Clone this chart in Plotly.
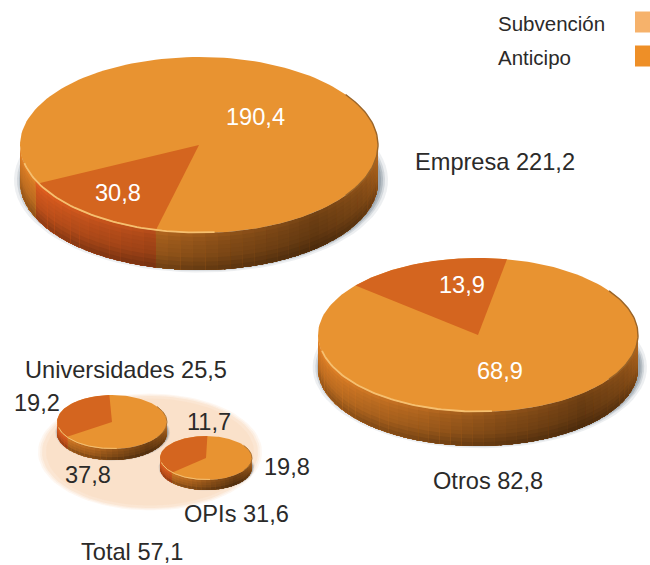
import numpy as np
import plotly.graph_objects as go

# ---- data ----
categories = ["Empresa", "Otros", "Universidades", "OPIs"]
totals = [221.2, 82.8, 25.5, 31.6]
subvencion = [190.4, 68.9, 37.8, 19.8]
anticipo = [30.8, 13.9, 19.2, 11.7]
group_label = "Total"
group_total = 57.1
legend_names = ["Subvención", "Anticipo"]

# ---- drawing style ----
W, H = 650, 565
fmt = lambda v: f"{v:.1f}".replace(".", ",")
# cx, cy, rx, ry, depth, start angle of the Anticipo slice (clockwise from north)
geom = [(199, 145, 179, 88, 37, 194),
        (478, 335, 160, 77, 34, 310),
        (112, 422, 55, 27, 11, 236),
        (206, 458, 46, 22, 10, 228)]
steps = [(4, 9), (4, 9), (6, 4), (6, 4)]
C_TOP, C_WEDGE = (232, 147, 49), (212, 101, 31)
C_SIDE, C_SIDE_W = (205, 118, 36), (208, 88, 30)

fig = go.Figure()


def poly(xs, ys, color, opacity=1.0):
    fig.add_trace(go.Scatter(x=xs, y=ys, mode="lines", fill="toself", fillcolor=color,
                             opacity=opacity, line=dict(width=0),
                             hoverinfo="skip", showlegend=False))


def ell(cx, cy, rx, ry, a, b, n=90):
    t = np.radians(np.linspace(a, b, n))
    return cx + rx * np.sin(t), cy - ry * np.cos(t)


def rgb(c, k=1.0):
    return "rgb(%d,%d,%d)" % tuple(min(255, max(0, int(v * k))) for v in c)


# pale "Total" halo behind the two small pies
for grow, op in [(4, 0.25), (2, 0.35), (0, 0.6), (-4, 0.8)]:
    x, y = ell(150, 452, 108 + grow, 56 + grow * 0.6, 0, 360)
    poly(x, y, "#fae0c8", op)

for (cx, cy, rx, ry, d, start), (da, nl), s, a in zip(geom, steps, subvencion, anticipo):
    sweep = 360 * a / (a + s)
    end = start + sweep
    # soft shadow under the disc
    sc = rx / 179
    for g, op in [(8, 0.12), (5, 0.2), (3, 0.3), (1, 0.35)]:
        x, y = ell(cx + 2 * sc, cy + d * 0.95, rx + g * sc, ry + g * 0.55 * sc, 0, 360)
        poly(x, y, "#6f7f8c", op)

    # outer wall, shaded by angle and height; painter's order hides the seams
    for t0 in np.arange(90, 270, da):
        t1 = min(t0 + da * 1.5, 270)
        mid = t0 + da / 2
        in_w = any(start <= m <= end for m in (mid, mid + 360))
        base = C_SIDE_W if in_w else C_SIDE
        k = np.interp(mid, [90, 115, 140, 170, 200, 240, 270], [0.85, 0.62, 0.5, 0.62, 0.8, 0.95, 1.0])
        xa, ya = ell(cx, cy, rx, ry, t0, t1, 4)
        for i in range(nl):
            f0 = i / nl
            kv = np.interp((i + 0.5) / nl, [0, 0.2, 0.6, 1], [1.15, 1.05, 0.95, 0.72])
            poly(np.r_[xa, xa[::-1], xa[0]],
                 np.r_[ya + d * f0, (ya + d)[::-1], ya[0] + d * f0],
                 rgb(base, k * kv))

    # top face
    x, y = ell(cx, cy, rx, ry, 0, 360, 180)
    poly(x, y, rgb(C_TOP))
    x, y = ell(cx, cy, rx, ry, start, end, 60)
    poly(np.r_[cx, x, cx], np.r_[cy, y, cy], rgb(C_WEDGE))

    # rim: bright on the front left, dark on the right
    x, y = ell(cx, cy, rx - 0.5, ry - 0.5, 175, 258, 60)
    fig.add_trace(go.Scatter(x=x, y=y, mode="lines", line=dict(color="#f6c070", width=1.8 if rx > 100 else 1),
                             hoverinfo="skip", showlegend=False))
    x, y = ell(cx, cy, rx, ry, 55, 125, 50)
    fig.add_trace(go.Scatter(x=x, y=y, mode="lines", line=dict(color="#9a6428", width=1.4 if rx > 100 else 0.8),
                             hoverinfo="skip", showlegend=False))

# ---- text ----
ink = "#2b2a29"
SZ = 23.6
notes = [
    (495, 162, f"{categories[0]} {fmt(totals[0])}", ink),
    (488, 481, f"{categories[1]} {fmt(totals[1])}", ink),
    (126, 370, f"{categories[2]} {fmt(totals[2])}", ink),
    (236, 514, f"{categories[3]} {fmt(totals[3])}", ink),
    (132, 552, f"{group_label} {fmt(group_total)}", ink),
    (255, 117, fmt(subvencion[0]), "white"),
    (118, 193, fmt(anticipo[0]), "white"),
    (500, 371, fmt(subvencion[1]), "white"),
    (462, 285, fmt(anticipo[1]), "white"),
    (37, 403, fmt(anticipo[2]), ink),
    (88, 475, fmt(subvencion[2]), ink),
    (209, 422, fmt(anticipo[3]), ink),
    (287, 467, fmt(subvencion[3]), ink),
]
for x, y, t, c in notes:
    fig.add_annotation(x=x, y=y, text=t, showarrow=False, xanchor="center", yanchor="middle",
                       font=dict(family="Liberation Sans", size=SZ, color=c))
for y, name, col in zip([23, 57], legend_names, ["#f6b26b", "#ee8f27"]):
    fig.add_annotation(x=495.5, y=y, text=name, showarrow=False, xanchor="left", yanchor="middle",
                       font=dict(family="Liberation Sans", size=20.5, color=ink))
    fig.add_shape(type="rect", x0=635, x1=650, y0=y - 11.5, y1=y + 9.5, fillcolor=col, line_width=0)

fig.update_layout(width=W, height=H, margin=dict(l=0, r=0, t=0, b=0), autosize=False,
                  paper_bgcolor="white", plot_bgcolor="white", showlegend=False,
                  xaxis=dict(range=[0, W], visible=False, fixedrange=True),
                  yaxis=dict(range=[H, 0], visible=False, fixedrange=True))
fig.write_html("out.html", config={"displayModeBar": False},
               post_script="document.body.style.margin='0';document.documentElement.style.overflow='hidden';")
